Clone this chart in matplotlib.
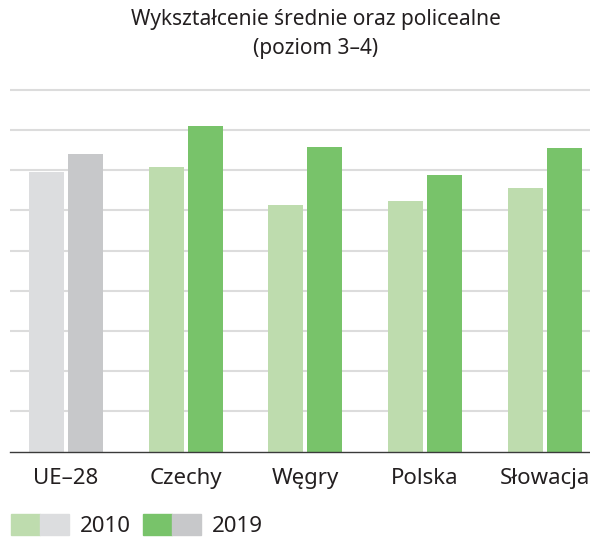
import numpy as np
import matplotlib.pyplot as plt
from matplotlib.patches import Patch
from matplotlib.legend_handler import HandlerTuple

plt.rcParams['font.family'] = ['Noto Sans', 'DejaVu Sans']

countries = ['UE–28', 'Czechy', 'Węgry', 'Polska', 'Słowacja']
y2010 = [69.6, 70.8, 61.4, 62.4, 65.6]
y2019 = [74.1, 81.0, 75.8, 68.8, 75.6]

c10 = ['#dcdddf'] + ['#bedcae'] * 4
c19 = ['#c7c8ca'] + ['#78c36a'] * 4

fig = plt.figure(figsize=(5.9, 5.39), dpi=100)
ax = fig.add_axes([10 / 590, 1 - 451.5 / 539, 580 / 590, (451.5 - 81.9) / 539])

x = np.arange(len(countries))
w = 0.293
off = 0.163
ax.bar(x - off, y2010, w, color=c10, zorder=2)
ax.bar(x + off, y2019, w, color=c19, zorder=2)

ax.set_xlim(-0.468, 4.38)
ax.set_ylim(0, 92)
ax.set_yticks(np.arange(10, 91, 10))
ax.yaxis.grid(True, color='#dcdcdc', linewidth=1.5, zorder=0)
ax.tick_params(axis='y', left=False, labelleft=False)
ax.tick_params(axis='x', length=0, pad=12, labelsize=16, colors='#231f20')
ax.set_xticks(x)
ax.set_xticklabels(countries)
for s in ['top', 'right', 'left']:
    ax.spines[s].set_visible(False)
ax.spines['bottom'].set_color('#3a3a3a')
ax.spines['bottom'].set_linewidth(1)

fig.text(316 / 590, 1 - 9 / 539, 'Wykształcenie średnie oraz policealne\n(poziom 3–4)',
         ha='center', va='top', fontsize=15, color='#231f20', linespacing=1.5)

handles = [(Patch(color='#bedcae'), Patch(color='#dcdddf')),
           (Patch(color='#78c36a'), Patch(color='#c7c8ca'))]
fig.legend(handles, ['2010', '2019'], handler_map={tuple: HandlerTuple(ndivide=None, pad=0)},
           loc='lower left', bbox_to_anchor=(11 / 590, 0.004), ncol=2, frameon=False,
           fontsize=16, handlelength=2.6, handleheight=1.1, handletextpad=0.5,
           columnspacing=0.55, borderaxespad=0, borderpad=0, labelcolor='#231f20')

fig.savefig('out.png', dpi=100)
